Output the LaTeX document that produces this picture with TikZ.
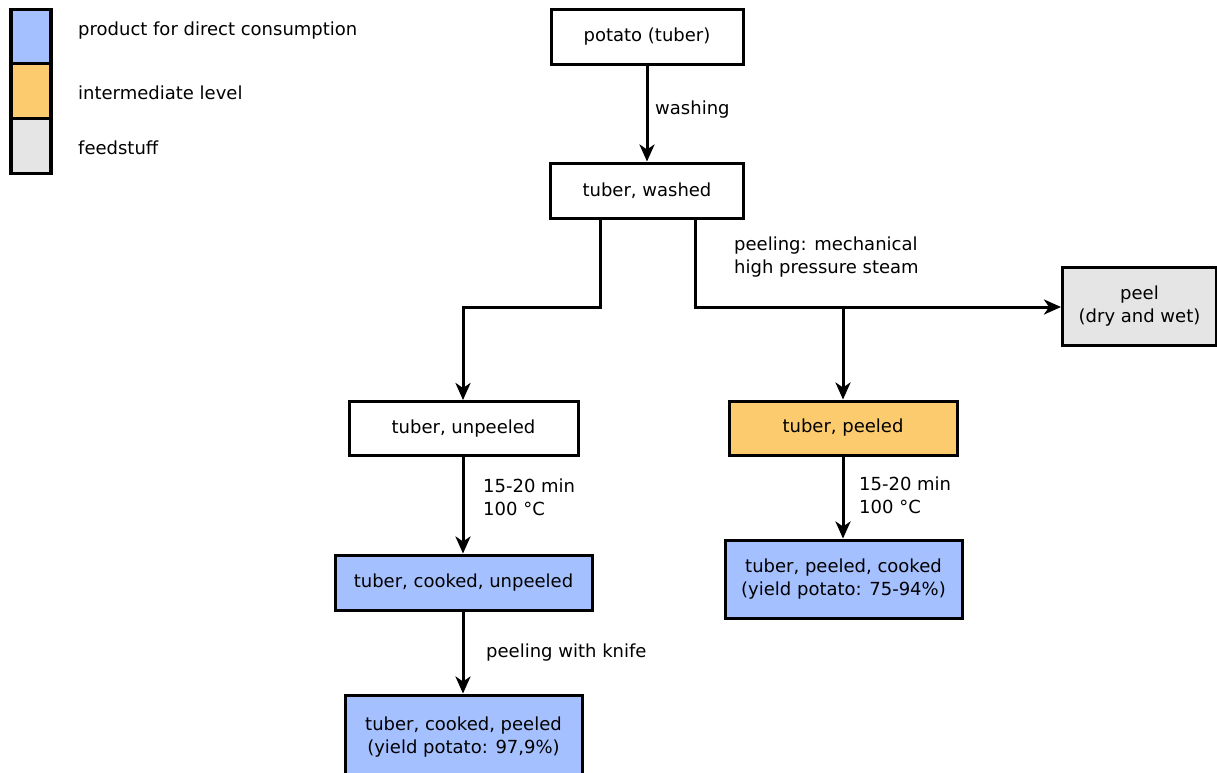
\documentclass[tikz,border=0pt]{standalone}
\usepackage{fontspec}
\setmainfont{DejaVu Sans}
\usetikzlibrary{arrows.meta}
\definecolor{consblue}{RGB}{165,192,255}
\definecolor{interorange}{RGB}{252,203,110}
\definecolor{feedgray}{RGB}{229,229,229}
\tikzset{
  box/.style={draw=black, line width=3pt, align=center, inner sep=0pt,
    font=\fontsize{18}{23}\selectfont},
  legbox/.style={draw=black, line width=3.4pt},
  lbl/.style={anchor=west, align=left, inner sep=0pt,
    font=\fontsize{18}{23}\selectfont},
  flow/.style={line width=3pt, line join=miter,
    -{Stealth[length=17pt,width=15pt,inset=5pt]}}
}
\begin{document}
\begin{tikzpicture}[x=1pt,y=-1pt]
\useasboundingbox (0,0) rectangle (1217,772);

% legend
\node[legbox, fill=consblue, minimum width=40pt, minimum height=55pt] (lgA) at (31,37) {};
\node[legbox, fill=interorange, minimum width=40pt, minimum height=55pt] (lgB) at (31,91) {};
\node[legbox, fill=feedgray, minimum width=40pt, minimum height=55pt] (lgC) at (31,146) {};
\node[lbl] (ltA) at (78,31) {product for direct consumption};
\node[lbl] (ltB) at (78,93) {intermediate level};
\node[lbl] (ltC) at (78,148) {feedstuff};

% process boxes
\node[box, fill=white, minimum width=192pt, minimum height=55pt] (potato) at (647,37) {potato (tuber)};
\node[box, fill=white, minimum width=193pt, minimum height=55pt] (washed) at (647,190.5) {tuber, washed};
\node[box, fill=feedgray, minimum width=154pt, minimum height=78pt] (peel) at (1139.5,306) {peel\\(dry and wet)};
\node[box, fill=white, minimum width=229pt, minimum height=54pt] (unpeeled) at (463.5,428.5) {tuber, unpeeled};
\node[box, fill=interorange, minimum width=228pt, minimum height=54pt] (peeled) at (843,428) {tuber, peeled};
\node[box, fill=consblue, minimum width=257pt, minimum height=55pt] (cookunp) at (463.5,582.5) {tuber, cooked, unpeeled};
\node[box, fill=consblue, minimum width=237pt, minimum height=78pt] (cookpeel) at (843.5,579) {tuber, peeled, cooked\\(yield potato: 75-94\%)};
\node[box, fill=consblue, minimum width=237pt, minimum height=84pt] (cookedpeeled) at (463.5,737) {tuber, cooked, peeled\\(yield potato: 97,9\%)};

% branch points
\coordinate (wl) at (600,307);
\coordinate (wr) at (695,307);
\coordinate (ul) at (463,307);
\coordinate (pr) at (843,307);

% connectors
\draw[flow] (potato.south) -- (washed.north);
\draw[flow] (washed.south -| wl) -- (wl) -- (ul) -- (unpeeled.north -| ul);
\draw[flow] (washed.south -| wr) -- (wr) -- (peel.west |- wr);
\draw[flow] (pr) -- (peeled.north -| pr);
\draw[flow] (unpeeled.south -| ul) -- (cookunp.north -| ul);
\draw[flow] (cookunp.south -| ul) -- (cookedpeeled.north -| ul);
\draw[flow] (peeled.south -| pr) -- (cookpeel.north -| pr);

% connector labels
\node[lbl] (lwash) at (655,110) {washing};
\node[lbl] (lpeel) at (734,257) {peeling: mechanical\\high pressure steam};
\node[lbl] (lcookA) at (483,497) {15-20 min\\100 °C};
\node[lbl] (lcookB) at (859,495) {15-20 min\\100 °C};
\node[lbl] (lknife) at (486,653) {peeling with knife};
\end{tikzpicture}
\end{document}
